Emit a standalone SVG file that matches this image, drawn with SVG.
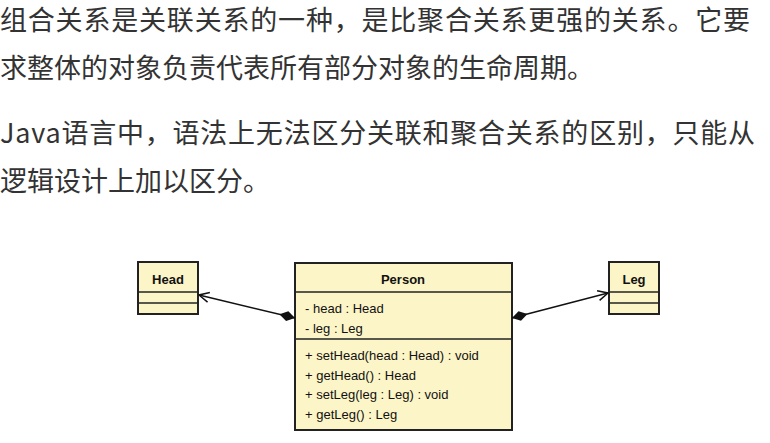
<svg xmlns="http://www.w3.org/2000/svg" width="770" height="443" viewBox="0 0 770 443">
<style>
.p{font-family:"Noto Sans CJK SC","Noto Sans",sans-serif;font-size:27px;fill:#333}
.box{fill:#fcf5c7;stroke:#222;stroke-width:2}
.ln{stroke:#222;stroke-width:1.5}
.t{font-family:"Liberation Sans",Arial,sans-serif;font-size:13px;fill:#111}
.b{font-weight:bold;text-anchor:middle}
.c{stroke:#111;stroke-width:1.5;fill:none}
</style>
<defs>
<marker id="open" viewBox="0 0 12 12" refX="11" refY="6" markerWidth="12" markerHeight="12" markerUnits="userSpaceOnUse" orient="auto"><path d="M1,1 L11,6 L1,11" fill="none" stroke="#111" stroke-width="1.5"/></marker>
<marker id="dia" viewBox="0 0 18 12" refX="1" refY="6" markerWidth="18" markerHeight="12" markerUnits="userSpaceOnUse" orient="auto"><path d="M1,6 L9,1 L17,6 L9,11 Z" fill="#111"/></marker>
</defs>
<rect width="770" height="443" fill="#fff"/>
<text class="p" x="0" y="30" textLength="750">组合关系是关联关系的一种，是比聚合关系更强的关系。它要</text>
<text class="p" x="0" y="78">求整体的对象负责代表所有部分对象的生命周期。</text>
<text class="p" x="0" y="143" textLength="755">Java语言中，语法上无法区分关联和聚合关系的区别，只能从</text>
<text class="p" x="0" y="191">逻辑设计上加以区分。</text>
<g id="head"><rect class="box" x="138" y="262" width="60" height="52"/><line class="ln" x1="138" y1="292" x2="198" y2="292"/><line class="ln" x1="138" y1="303" x2="198" y2="303"/><text class="t b" x="168" y="284">Head</text></g>
<g id="leg"><rect class="box" x="609" y="262" width="50" height="52"/><line class="ln" x1="609" y1="292" x2="659" y2="292"/><line class="ln" x1="609" y1="303" x2="659" y2="303"/><text class="t b" x="634" y="284">Leg</text></g>
<g id="person"><rect class="box" x="295" y="263" width="217" height="167"/><line class="ln" x1="295" y1="292" x2="512" y2="292"/><line class="ln" x1="295" y1="339" x2="512" y2="339"/>
<text class="t b" x="403" y="284">Person</text>
<text class="t" x="305" y="313">- head : Head</text>
<text class="t" x="305" y="333">- leg : Leg</text>
<text class="t" x="305" y="360">+ setHead(head : Head) : void</text>
<text class="t" x="305" y="380">+ getHead() : Head</text>
<text class="t" x="305" y="399">+ setLeg(leg : Leg) : void</text>
<text class="t" x="305" y="419">+ getLeg() : Leg</text></g>
<g id="connectors">
<line class="c" x1="295" y1="318" x2="199" y2="295" marker-start="url(#dia)" marker-end="url(#open)"/>
<line class="c" x1="512" y1="318" x2="608" y2="293" marker-start="url(#dia)" marker-end="url(#open)"/>
</g>
</svg>
